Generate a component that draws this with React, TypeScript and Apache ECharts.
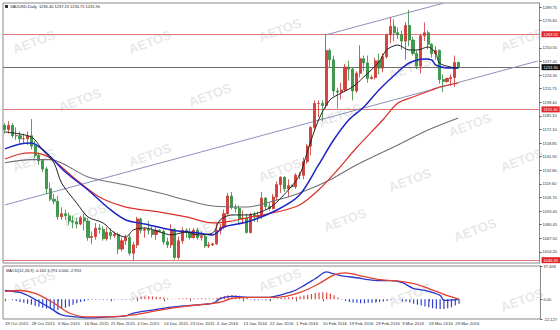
import React, { useEffect, useRef } from 'react';
import * as echarts from 'echarts';

// x-axis tick labels, one every 7 bars
const tickLabels = [
  '19 Oct 2015', '28 Oct 2015', '6 Nov 2015', '16 Nov 2015', '25 Nov 2015', '4 Dec 2015',
  '14 Dec 2015', '23 Dec 2015', '4 Jan 2016', '13 Jan 2016', '22 Jan 2016', '1 Feb 2016',
  '10 Feb 2016', '19 Feb 2016', '29 Feb 2016', '9 Mar 2016', '18 Mar 2016', '29 Mar 2016',
];
const slotCount = 142;

// daily candles: [open, close, low, high]
const ohlc: number[][] = [
  [1176, 1172, 1168, 1178], [1172, 1176, 1168, 1180], [1176, 1166, 1164, 1178], [1166, 1166, 1162, 1174],
  [1166, 1163, 1159, 1170], [1163, 1163, 1158, 1168], [1163, 1166, 1157, 1170], [1166, 1156, 1153, 1182],
  [1156, 1147, 1144, 1161], [1147, 1142, 1138, 1150], [1142, 1134, 1131, 1143], [1134, 1115, 1110, 1136],
  [1115, 1105, 1103, 1121], [1105, 1103, 1100, 1110], [1103, 1088, 1085, 1108], [1088, 1091, 1085, 1097],
  [1091, 1089, 1085, 1095], [1089, 1084, 1080, 1092], [1084, 1083, 1077, 1089], [1083, 1081, 1077, 1087],
  [1081, 1087, 1080, 1089], [1087, 1084, 1075, 1091], [1084, 1068, 1065, 1087], [1068, 1069, 1062, 1074],
  [1069, 1077, 1066, 1082], [1077, 1076, 1072, 1081], [1076, 1067, 1065, 1079], [1067, 1073, 1065, 1078],
  [1073, 1070, 1066, 1077], [1070, 1071, 1068, 1074], [1071, 1057, 1052, 1073], [1057, 1065, 1055, 1068],
  [1065, 1068, 1061, 1071], [1068, 1053, 1051, 1071], [1053, 1061, 1046, 1064], [1061, 1086, 1058, 1088],
  [1086, 1075, 1072, 1087], [1075, 1076, 1068, 1078], [1076, 1075, 1071, 1084], [1075, 1071, 1068, 1079],
  [1071, 1075, 1066, 1078], [1075, 1074, 1073, 1076], [1074, 1064, 1061, 1076], [1064, 1061, 1058, 1068],
  [1061, 1076, 1058, 1081], [1076, 1049, 1047, 1077], [1049, 1065, 1047, 1069], [1065, 1075, 1062, 1078],
  [1075, 1073, 1068, 1077], [1073, 1068, 1066, 1077], [1068, 1075, 1067, 1077], [1075, 1068, 1066, 1077],
  [1068, 1069, 1065, 1074], [1069, 1060, 1058, 1071], [1060, 1061, 1058, 1064], [1061, 1062, 1060, 1063],
  [1062, 1075, 1061, 1082], [1075, 1078, 1071, 1081], [1078, 1091, 1076, 1095], [1091, 1108, 1090, 1111],
  [1108, 1097, 1095, 1112], [1097, 1096, 1092, 1100], [1096, 1086, 1082, 1099], [1086, 1087, 1081, 1094],
  [1087, 1073, 1072, 1091], [1073, 1090, 1072, 1092], [1090, 1088, 1083, 1093], [1088, 1089, 1083, 1093],
  [1089, 1106, 1086, 1112], [1106, 1098, 1095, 1107], [1098, 1096, 1094, 1101], [1096, 1107, 1095, 1110],
  [1107, 1119, 1104, 1122], [1119, 1126, 1111, 1127], [1126, 1115, 1112, 1127], [1115, 1118, 1107, 1124],
  [1118, 1117, 1116, 1119], [1117, 1128, 1115, 1130], [1128, 1128, 1124, 1131], [1128, 1141, 1124, 1145],
  [1141, 1156, 1139, 1158], [1156, 1174, 1147, 1175], [1174, 1197, 1171, 1200], [1197, 1197, 1184, 1200],
  [1197, 1195, 1180, 1200], [1195, 1248, 1192, 1263], [1248, 1239, 1232, 1250], [1239, 1209, 1204, 1243],
  [1209, 1208, 1192, 1212], [1208, 1210, 1201, 1217], [1210, 1232, 1208, 1235], [1232, 1230, 1219, 1238],
  [1230, 1209, 1200, 1232], [1209, 1226, 1207, 1228], [1226, 1240, 1222, 1253], [1240, 1236, 1228, 1243],
  [1236, 1221, 1217, 1243], [1221, 1222, 1220, 1224], [1222, 1238, 1220, 1241], [1238, 1231, 1225, 1245],
  [1231, 1242, 1227, 1245], [1242, 1263, 1240, 1264], [1263, 1271, 1255, 1280], [1271, 1265, 1257, 1278],
  [1265, 1263, 1259, 1270], [1263, 1257, 1249, 1267], [1257, 1272, 1239, 1275], [1272, 1258, 1252, 1287],
  [1258, 1245, 1243, 1261], [1245, 1233, 1230, 1248], [1233, 1262, 1226, 1264], [1262, 1265, 1257, 1275],
  [1265, 1254, 1249, 1267], [1254, 1245, 1241, 1255], [1245, 1248, 1239, 1252], [1248, 1220, 1216, 1249],
  [1220, 1218, 1208, 1225], [1218, 1221, 1217, 1222], [1221, 1222, 1214, 1225], [1222, 1236.4, 1213, 1243],
  [1236.4, 1231.9, 1230.75, 1237.23],
];

// moving averages: [bar index, price]
const maFast = [
  [0, 1169.6], [7, 1164.7], [10, 1152.3], [13, 1139.8], [15, 1120.5], [19, 1101.3], [22, 1087.9], [26, 1082.1],
  [29, 1072.5], [32, 1068.6], [34, 1075.4], [37, 1077.3], [41, 1073.4], [44, 1070.6], [48, 1073.4], [51, 1070.6],
  [55, 1072.5], [57, 1085], [60, 1089.8], [64, 1089.8], [70, 1096.5], [75, 1113.8], [78, 1128.2], [80, 1150],
  [83, 1181], [86, 1200.3], [89, 1207], [92, 1212.8], [95, 1222.5], [99, 1236.9], [101, 1248.4], [104, 1253.2],
  [107, 1248.4], [109, 1248.4], [112, 1251.3], [114, 1245.5], [115, 1235.9], [118, 1232], [120, 1231.1],
];
const maMid = [
  [0, 1153.3], [4, 1158], [7, 1159], [11, 1149.4], [16, 1131.1], [22, 1113.8], [28, 1094.6], [32, 1085],
  [37, 1081.1], [44, 1075.4], [51, 1072.5], [55, 1070.6], [58, 1078.3], [64, 1083], [72, 1094.6], [78, 1109],
  [83, 1137.9], [87, 1161.9], [91, 1181.1], [95, 1193.6], [99, 1210], [104, 1227.3], [107, 1235.9], [111, 1239.8],
  [113, 1238.8], [114, 1234], [117, 1231.1], [120, 1231.1],
];
const maSlow = [
  [0, 1143.6], [4, 1148.4], [7, 1149.4], [12, 1144.6], [18, 1126.3], [25, 1107], [32, 1097.4], [41, 1092.6],
  [48, 1087.9], [55, 1082.1], [60, 1084], [64, 1086.9], [72, 1092.6], [78, 1099.4], [83, 1113.8], [88, 1133],
  [93, 1154.2], [100, 1181.1], [104, 1197.4], [108, 1203.2], [113, 1210], [115, 1212.8], [120, 1216.7],
];
const maLong = [
  [0, 1140], [7, 1143], [12, 1143], [22, 1126.3], [32, 1118.6], [41, 1110.9], [48, 1104.2], [55, 1098.4],
  [64, 1097.5], [72, 1104.2], [78, 1110.9], [86, 1123.4], [93, 1137.8], [104, 1157.1], [112, 1171.5], [120, 1183],
];

// price axis labels and levels
const priceLabels = [
  1289.75, 1276.6, 1250.55, 1237.4, 1224.3, 1211.75, 1198.4, 1185.1, 1172.1, 1158.85,
  1145.9, 1132.8, 1119.6, 1106.7, 1093.4, 1080.45, 1067.5, 1054.2,
];
const redLevels = [1263.55, 1191.3, 1046.3];
const bidPrice = 1231.9;
const lowerChannel = [[0, 1099.4], [141, 1237.8]];
const upperChannel = [[85, 1263.0], [116, 1293.4]];

// MACD pane
const macdMain = [
  [0, 9.9], [4, 7.7], [7, 2.2], [12, -9.9], [15, -17.6], [19, -19.8], [22, -20.9], [27, -19.8], [32, -18.7],
  [34, -15.4], [39, -12.1], [44, -8.8], [50, -6.6], [55, -4.4], [57, 1.1], [60, 3.3], [65, 2.2], [70, 2.2],
  [72, 4], [76, 8.8], [79, 15.4], [82, 23.1], [85, 30.8], [86, 29.7], [89, 26.4], [93, 24.2], [96, 22],
  [99, 20.9], [102, 20.9], [105, 18.7], [108, 12.1], [111, 9.9], [115, 4.4], [116, -1.1], [120, 0],
];
const macdSignal = [
  [0, 8.8], [4, 9.9], [8, 6.6], [13, -4.4], [17, -15.4], [22, -19.8], [27, -19.8], [34, -17.6], [41, -12.1],
  [48, -7.7], [53, -5.5], [57, -3.3], [60, 1.1], [65, 2.2], [72, 2.2], [78, 7.7], [83, 17.6], [87, 27.5],
  [90, 29.7], [94, 26.4], [99, 22], [103, 20.9], [108, 17.6], [112, 12.1], [116, 5.5], [120, 0],
];
const macdHist = [
  0.5, 0.3, -1, -2, -3, -4, -5, -6, -7.5, -8.5, -9.5, -10.5, -11, -12, -12, -11, -9.5, -8, -6, -4.5,
  -3, -2, -1, -0.5, -0.4, -0.4, -0.4, -0.4, -0.4, -0.4, -0.4, -0.4, -0.4, -0.4, 1, 2, 2.8, 3.2, 3.4, 3.2,
  3, 2.6, 2, 1.2, 0.5, 0.3, 0.8, 1, 1.2, 1.2, 1, 1, 1.2, 1, 0.8, 1, 1.5, 2.5, 3.5, 4.5,
  4.8, 4.5, 4, 3, 1.5, -0.5, -1, -1, -0.5, -1, -0.8, 0.5, 1, 1.5, 2, 2.2, 2.5, 3, 3.5, 4.2,
  5, 6, 7, 7.6, 8, 7.5, 6.5, 4.5, 2, -0.5, -2, -3, -3.5, -4, -4.5, -4.5, -4, -4, -3.5, -3,
  -2.5, -2, -0.5, 0.3, -0.3, -1.5, -2.5, -3.5, -5, -6, -7, -8, -9, -10, -10.5, -11, -11, -10, -9, -7,
  -5,
];
const macdLabels = [37.408, 0, -22.127];

const titleText = 'XAUUSD,Daily  1236.40 1237.23 1230.75 1231.90';
const macdTitle = 'MACD(12,26,9) -0.162 3.791 0.000 -2.953';
const watermarkText = 'AETOS';
const watermarks = [
  [34, 42], [150, 42], [280, 30], [410, 68], [522, 40],
  [80, 100], [210, 95], [340, 115], [470, 125],
  [34, 160], [150, 155], [280, 170], [410, 180], [522, 160],
  [85, 215], [215, 225], [345, 220], [475, 230],
  [34, 282], [150, 290], [280, 280], [410, 295], [522, 300],
];

const FONT = 'Liberation Sans';

export default function App() {
  const ref = useRef<HTMLDivElement>(null);
  useEffect(() => {
    if (!ref.current) return;
    const chart = echarts.init(ref.current, null, { renderer: 'svg' });
    const cats = Array.from({ length: slotCount }, (_, i) => String(i));
    const labelAt = (i: number) => (i % 7 === 0 ? tickLabels[i / 7] ?? '' : '');
    const showTick = (i: number) => labelAt(i) !== '';

    const levelLabel = (bg: string) => ({
      show: true,
      position: 'end',
      distance: 2,
      backgroundColor: bg,
      color: '#ffffff',
      fontSize: 4,
      fontFamily: FONT,
      padding: [1, 2],
      formatter: (p: any) => Number(p.value).toFixed(2),
    });

    const option: any = {
      animation: false,
      backgroundColor: '#ffffff',
      textStyle: { fontFamily: FONT },
      grid: [
        { left: 3, top: 3, width: 538, height: 260, show: true, borderColor: '#8a8a8a', borderWidth: 1, backgroundColor: 'transparent' },
        { left: 3, top: 266, width: 538, height: 53, show: true, borderColor: '#8a8a8a', borderWidth: 1, backgroundColor: 'transparent' },
      ],
      xAxis: [
        {
          type: 'category', gridIndex: 0, data: cats, boundaryGap: true,
          axisLine: { show: false }, axisTick: { show: false }, axisLabel: { show: false }, splitLine: { show: false },
        },
        {
          type: 'category', gridIndex: 1, data: cats, boundaryGap: true,
          axisLine: { show: false },
          axisTick: { show: true, interval: (i: number) => showTick(i), alignWithLabel: true, length: 2, lineStyle: { color: '#555' } },
          axisLabel: {
            interval: (i: number) => showTick(i), formatter: (v: string) => labelAt(Number(v)),
            fontSize: 4.3, color: '#333', align: 'left', margin: 2, fontFamily: FONT,
          },
          splitLine: { show: false },
        },
      ],
      yAxis: [
        {
          type: 'value', gridIndex: 0, position: 'right', min: 1043.6, max: 1293.6, scale: true,
          splitLine: { show: false },
          axisLine: { show: true, lineStyle: { color: '#8a8a8a' } },
          axisTick: { show: true, length: 2, customValues: priceLabels, lineStyle: { color: '#555' } },
          axisLabel: { customValues: priceLabels, formatter: (v: number) => v.toFixed(2), fontSize: 4, color: '#333', margin: 3, fontFamily: FONT },
        },
        {
          type: 'value', gridIndex: 1, position: 'right', min: -22.127, max: 37.408,
          splitLine: { show: false },
          axisLine: { show: true, lineStyle: { color: '#8a8a8a' } },
          axisTick: { show: true, length: 2, customValues: macdLabels, lineStyle: { color: '#555' } },
          axisLabel: {
            customValues: macdLabels,
            formatter: (v: number) => (v === 0 ? '0.00' : String(v)),
            fontSize: 4, color: '#333', margin: 3, fontFamily: FONT,
          },
        },
      ],
      graphic: [
        ...watermarks.map(([x, y]) => ({
          type: 'text', x, y, rotation: 0.36, z: 1, silent: true,
          style: { text: watermarkText, fill: 'rgba(165,165,165,0.27)', font: `bold 13px "${FONT}"`, align: 'center', verticalAlign: 'middle' },
        })),
        { type: 'rect', left: 5, top: 5, z: 10, shape: { width: 3, height: 3 }, style: { fill: '#333' } },
        { type: 'text', left: 10, top: 4.5, z: 10, style: { text: titleText, fill: '#222', font: `4px "${FONT}"` } },
        { type: 'text', left: 6, top: 268.5, z: 10, style: { text: macdTitle, fill: '#222', font: `4px "${FONT}"` } },
      ],
      series: [
        {
          type: 'candlestick', name: 'XAUUSD', xAxisIndex: 0, yAxisIndex: 0,
          data: ohlc, barWidth: 2.6, z: 3,
          itemStyle: { color: '#d6403c', color0: '#3d9b4a', borderColor: '#c8342f', borderColor0: '#2f8a3c', borderWidth: 0.8 },
          markLine: {
            symbol: 'none', silent: true, animation: false, z: 2,
            data: [
              ...redLevels.map((v) => ({ yAxis: v, lineStyle: { color: '#e07a7a', width: 1, type: 'solid' }, label: levelLabel('#e0262a') })),
              { yAxis: bidPrice, lineStyle: { color: '#6e6e6e', width: 1, type: 'solid' }, label: levelLabel('#111111') },
              [
                { coord: lowerChannel[0], lineStyle: { color: '#8a90bb', width: 1, type: 'solid' }, label: { show: false } },
                { coord: lowerChannel[1] },
              ],
              [
                { coord: upperChannel[0], lineStyle: { color: '#8a90bb', width: 1, type: 'solid' }, label: { show: false } },
                { coord: upperChannel[1] },
              ],
            ],
          },
        },
        { type: 'line', name: 'MA long', xAxisIndex: 0, yAxisIndex: 0, data: maLong, showSymbol: false, smooth: 0.3, z: 4, lineStyle: { color: '#6f6f78', width: 1.1 } },
        { type: 'line', name: 'MA slow', xAxisIndex: 0, yAxisIndex: 0, data: maSlow, showSymbol: false, smooth: 0.3, z: 4, lineStyle: { color: '#d9302c', width: 1.2 } },
        { type: 'line', name: 'MA mid', xAxisIndex: 0, yAxisIndex: 0, data: maMid, showSymbol: false, smooth: 0.3, z: 4, lineStyle: { color: '#1c25c4', width: 1.5 } },
        { type: 'line', name: 'MA fast', xAxisIndex: 0, yAxisIndex: 0, data: maFast, showSymbol: false, smooth: 0.3, z: 4, lineStyle: { color: '#222222', width: 1 } },
        {
          type: 'bar', name: 'Histogram', xAxisIndex: 1, yAxisIndex: 1, barWidth: 1.2, z: 3,
          data: macdHist.map((v) => ({ value: v, itemStyle: { color: v >= 0 ? '#e0453c' : '#3344cc' } })),
        },
        { type: 'line', name: 'MACD', xAxisIndex: 1, yAxisIndex: 1, data: macdMain, showSymbol: false, smooth: 0.3, z: 4, lineStyle: { color: '#2a36cc', width: 1.3 } },
        { type: 'line', name: 'Signal', xAxisIndex: 1, yAxisIndex: 1, data: macdSignal, showSymbol: false, smooth: 0.3, z: 4, lineStyle: { color: '#e0402e', width: 1.3 } },
      ],
    };
    chart.setOption(option);
    return () => chart.dispose();
  }, []);
  return (
    <div
      ref={ref}
      style={{ position: 'absolute', left: 0, top: 0, width: 560, height: 330, background: '#ffffff' }}
    />
  );
}
